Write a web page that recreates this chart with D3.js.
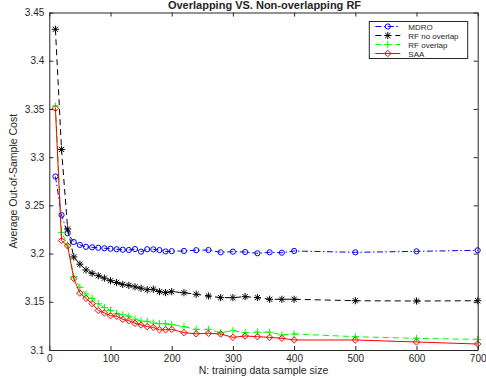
<!DOCTYPE html>
<html>
<head>
<meta charset="utf-8">
<script src="https://cdn.jsdelivr.net/npm/d3@7"></script>
<style>
  html, body { margin: 0; padding: 0; background: #fff; }
  svg { display: block; }
  text { font-family: "Liberation Sans", Arial, Helvetica, sans-serif; fill: #262626; }
</style>
</head>
<body>
<svg id="chart" width="486" height="381"></svg>
<script>
// Training sample sizes N
const sampleSizes = [10, 20, 30, 40, 50, 60, 70, 80, 90, 100,
  110, 120, 130, 140, 150, 160, 170, 180, 190, 200,
  220, 240, 260, 280, 300, 320, 340, 360, 380, 400,
  500, 600, 700];

// Average out-of-sample cost per method
const mdro = [3.280, 3.240, 3.221, 3.212, 3.209, 3.207, 3.2065, 3.206, 3.2055, 3.205,
  3.2045, 3.204, 3.2037, 3.2047, 3.202, 3.2045, 3.2044, 3.2036, 3.2022, 3.2025,
  3.2027, 3.2035, 3.2037, 3.2013, 3.202, 3.2016, 3.2003, 3.2013, 3.2009, 3.2027,
  3.2013, 3.2023, 3.2034];

const rfNoOverlap = [3.4326, 3.308, 3.2255, 3.1965, 3.189, 3.183, 3.1795, 3.177, 3.1745, 3.1718,
  3.170, 3.168, 3.167, 3.1655, 3.164, 3.1625, 3.163, 3.1605, 3.1595, 3.1605,
  3.1594, 3.1578, 3.156, 3.1543, 3.1543, 3.1553, 3.1543, 3.1526, 3.1526, 3.1526,
  3.1511, 3.1508, 3.1511];

const rfOverlap = [3.353, 3.222, 3.209, 3.176, 3.165, 3.158, 3.1535, 3.148, 3.144, 3.141,
  3.138, 3.1365, 3.135, 3.132, 3.130, 3.1297, 3.128, 3.1273, 3.1273, 3.1263,
  3.1242, 3.1214, 3.1214, 3.118, 3.120, 3.118, 3.1185, 3.1185, 3.1156, 3.1166,
  3.1138, 3.1121, 3.111];

const saa = [3.3507, 3.2135, 3.208, 3.174, 3.159, 3.1536, 3.148, 3.141, 3.1385, 3.1355,
  3.135, 3.1318, 3.1304, 3.1277, 3.1259, 3.1242, 3.1235, 3.121, 3.121, 3.1214,
  3.118, 3.1168, 3.1173, 3.1166, 3.1131, 3.1145, 3.1138, 3.1131, 3.1121, 3.1104,
  3.1104, 3.1083, 3.1062];

const seriesNames = ["MDRO", "RF no overlap", "RF overlap", "SAA"];

// Axis ticks
const xTicks = [0, 100, 200, 300, 400, 500, 600, 700];
const yTicks = [3.1, 3.15, 3.2, 3.25, 3.3, 3.35, 3.4, 3.45];

// Text
const titleText = "Overlapping VS. Non-overlapping RF";
const xLabel = "N: training data sample size";
const yLabel = "Average Out-of-Sample Cost";

const svg = d3.select("#chart");
const W = 486, H = 381;
const plot = { left: 49.3, right: 477.7, top: 12.5, bottom: 350 };
const axisColor = "#262626";

svg.append("rect").attr("width", W).attr("height", H).attr("fill", "#fff");

const x = d3.scaleLinear().domain([0, 700]).range([plot.left, plot.right]);
const y = d3.scaleLinear().domain([3.1, 3.45]).range([plot.bottom, plot.top]);

// Marker shapes
const markerPaths = {
  circle: s => d3.symbol().type(d3.symbolCircle).size(Math.PI * s * s)(),
  star: s => {
    const d = s * 0.72;
    return `M${-s},0L${s},0M0,${-s}L0,${s}M${-d},${-d}L${d},${d}M${-d},${d}L${d},${-d}`;
  },
  plus: s => `M${-s},0L${s},0M0,${-s}L0,${s}`,
  diamond: s => `M0,${-s}L${s},0L0,${s}L${-s},0Z`
};

const series = [
  { name: seriesNames[0], values: mdro, color: "#0000ff", dash: "6,2.5,1.5,2.5", marker: "circle", size: 2.6 },
  { name: seriesNames[1], values: rfNoOverlap, color: "#000000", dash: "6,4", marker: "star", size: 3.6 },
  { name: seriesNames[2], values: rfOverlap, color: "#00ff00", dash: "6,4", marker: "plus", size: 3.6 },
  { name: seriesNames[3], values: saa, color: "#ff0000", dash: null, marker: "diamond", size: 3.2 }
];

const line = d3.line().x(d => x(d.n)).y(d => y(d.v));

const plotG = svg.append("g");
series.forEach(s => {
  const pts = sampleSizes.map((n, i) => ({ n, v: s.values[i] }));
  const g = plotG.append("g");
  g.append("path")
    .datum(pts)
    .attr("d", line)
    .attr("fill", "none")
    .attr("stroke", s.color)
    .attr("stroke-width", 1)
    .attr("stroke-dasharray", s.dash);
  g.selectAll("path.m")
    .data(pts)
    .join("path")
    .attr("class", "m")
    .attr("transform", d => `translate(${x(d.n)},${y(d.v)})`)
    .attr("d", markerPaths[s.marker](s.size))
    .attr("fill", "none")
    .attr("stroke", s.color)
    .attr("stroke-width", 1);
});

// Axes box with inward ticks
function styleAxis(g) {
  g.selectAll("path.domain").attr("stroke", axisColor).attr("stroke-width", 1);
  g.selectAll(".tick line").attr("stroke", axisColor).attr("stroke-width", 1);
  g.selectAll(".tick text").attr("fill", axisColor).style("font-size", "10px")
    .style("font-family", "'Liberation Sans', Arial, Helvetica, sans-serif");
}

svg.append("g")
  .attr("transform", `translate(0,${plot.bottom})`)
  .call(d3.axisBottom(x).tickValues(xTicks).tickFormat(d3.format("d")).tickSizeInner(-4).tickSizeOuter(0).tickPadding(5))
  .call(styleAxis);

svg.append("g")
  .attr("transform", `translate(0,${plot.top})`)
  .call(d3.axisTop(x).tickValues(xTicks).tickFormat("").tickSizeInner(-4).tickSizeOuter(0))
  .call(styleAxis);

svg.append("g")
  .attr("transform", `translate(${plot.left},0)`)
  .call(d3.axisLeft(y).tickValues(yTicks).tickFormat(d => String(+d.toFixed(2))).tickSizeInner(-4).tickSizeOuter(0).tickPadding(5))
  .call(styleAxis);

svg.append("g")
  .attr("transform", `translate(${plot.right},0)`)
  .call(d3.axisRight(y).tickValues(yTicks).tickFormat("").tickSizeInner(-4).tickSizeOuter(0))
  .call(styleAxis);

// Title and axis labels
svg.append("text")
  .attr("x", (plot.left + plot.right) / 2 + 1)
  .attr("y", 8.5)
  .attr("text-anchor", "middle")
  .style("font-size", "11px")
  .style("font-weight", "bold")
  .text(titleText);

svg.append("text")
  .attr("x", (plot.left + plot.right) / 2)
  .attr("y", 373.5)
  .attr("text-anchor", "middle")
  .style("font-size", "10.5px")
  .text(xLabel);

svg.append("text")
  .attr("transform", `translate(16.5,${(plot.top + plot.bottom) / 2}) rotate(-90)`)
  .attr("text-anchor", "middle")
  .style("font-size", "10.5px")
  .text(yLabel);

// Legend
const leg = { x0: 369.3, y0: 21.5, w: 98.4, h: 37, rowH: 9 };
const legG = svg.append("g");
legG.append("rect")
  .attr("x", leg.x0).attr("y", leg.y0)
  .attr("width", leg.w).attr("height", leg.h)
  .attr("fill", "#fff").attr("stroke", axisColor).attr("stroke-width", 1);

series.forEach((s, i) => {
  const cy = leg.y0 + 5 + i * leg.rowH;
  legG.append("line")
    .attr("x1", leg.x0 + 6).attr("x2", leg.x0 + 31)
    .attr("y1", cy).attr("y2", cy)
    .attr("stroke", s.color).attr("stroke-width", 1)
    .attr("stroke-dasharray", s.dash);
  legG.append("path")
    .attr("transform", `translate(${leg.x0 + 18.5},${cy})`)
    .attr("d", markerPaths[s.marker](s.size))
    .attr("fill", "none").attr("stroke", s.color).attr("stroke-width", 1);
  legG.append("text")
    .attr("x", leg.x0 + 39).attr("y", cy + 3)
    .style("font-size", "8px")
    .text(s.name);
});
</script>
</body>
</html>
